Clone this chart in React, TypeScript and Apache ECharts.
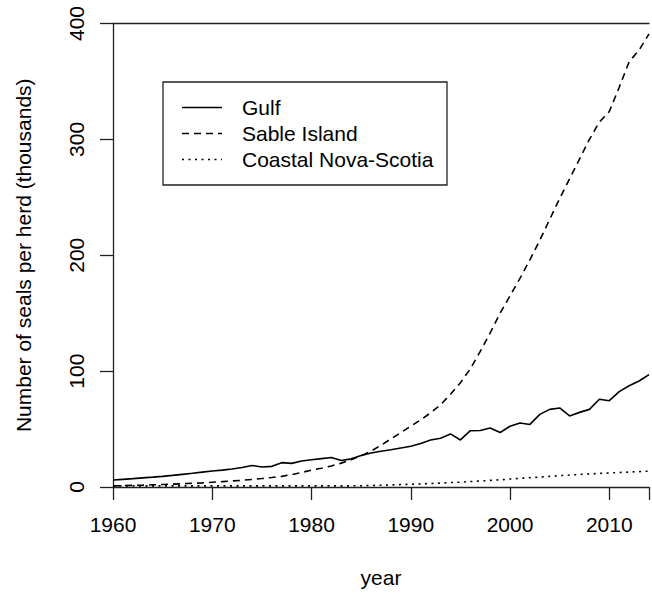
import React, { useEffect, useRef } from "react";
import * as echarts from "echarts";

const years: number[] = [];
for (let y = 1960; y <= 2014; y++) years.push(y);

const gulf = [
  6.0, 6.6, 7.2, 7.9, 8.5, 9.2, 10.0, 10.9, 11.8, 12.8,
  13.8, 14.6, 15.5, 16.9, 18.6, 17.3, 17.8, 21.0, 20.4, 22.5,
  23.5, 24.5, 25.5, 22.8, 24.3, 27.2, 29.3, 30.8, 32.2, 33.7,
  35.2, 37.5, 40.6, 42.0, 45.8, 40.6, 48.6, 48.8, 51.0, 47.0,
  52.4, 55.2, 54.0, 62.7, 67.0, 68.2, 61.3, 64.4, 67.0, 75.7,
  74.5, 82.3, 87.4, 91.5, 97.0,
];

const sable = [
  1.0, 1.2, 1.4, 1.6, 1.9, 2.2, 2.5, 2.8, 3.2, 3.6,
  4.1, 4.6, 5.2, 5.8, 6.5, 7.3, 8.2, 9.2, 10.7, 12.5,
  14.5, 16.2, 18.2, 20.6, 23.5, 27.0, 31.0, 36.0, 41.5, 47.0,
  52.5, 58.0, 64.0, 71.0, 80.0, 90.0, 102.0, 117.0, 133.0, 150.0,
  165.0, 180.0, 196.0, 213.0, 231.0, 249.0, 266.0, 283.0, 300.0, 315.0,
  324.0, 345.0, 367.0, 377.0, 391.0,
];

const coastal = [
  1.0, 1.0, 1.0, 1.0, 1.0, 1.0, 1.0, 1.0, 1.0, 1.0,
  1.0, 1.0, 1.0, 1.0, 1.0, 1.0, 1.0, 1.0, 1.0, 1.0,
  1.0, 1.0, 1.0, 1.0, 1.0, 1.1, 1.3, 1.5, 1.8, 2.1,
  2.4, 2.7, 3.0, 3.4, 3.8, 4.2, 4.7, 5.2, 5.7, 6.2,
  6.9, 7.4, 8.0, 8.6, 9.2, 9.8, 10.3, 10.8, 11.3, 11.7,
  12.1, 12.5, 12.9, 13.3, 13.7,
];

const seriesNames = ["Gulf", "Sable Island", "Coastal Nova-Scotia"];

const FONT = "'Liberation Sans', Arial, sans-serif";

export default function App() {
  const ref = useRef<HTMLDivElement>(null);

  useEffect(() => {
    if (!ref.current) return;
    const chart = echarts.init(ref.current, undefined, { renderer: "svg" });
    const pair = (arr: number[]) => years.map((y, i) => [y, arr[i]]);
    const dashes: (string | number[])[] = ["solid", [7, 5], [2, 4.5]];
    const legendRows = [107.5, 133.5, 159.5];

    const legendGraphics: any[] = [
      {
        type: "rect",
        shape: { x: 163, y: 82, width: 284, height: 103 },
        style: { fill: "#fff", stroke: "#222", lineWidth: 1.3 },
        z: 100,
      },
    ];
    seriesNames.forEach((n, i) => {
      legendGraphics.push({
        type: "line",
        shape: { x1: 182, y1: legendRows[i], x2: 222, y2: legendRows[i] },
        style: {
          stroke: "#000",
          lineWidth: 1.6,
          lineDash: dashes[i] === "solid" ? null : dashes[i],
        },
        z: 101,
      });
      legendGraphics.push({
        type: "text",
        x: 242,
        y: legendRows[i],
        style: {
          text: n,
          font: `21px ${FONT}`,
          fill: "#000",
          textVerticalAlign: "middle",
          verticalAlign: "middle",
          textAlign: "left",
          align: "left",
        },
        z: 101,
      });
    });

    const data = [gulf, sable, coastal];
    const axisLineStyle = { color: "#222", width: 1.3 };

    chart.setOption({
      animation: false,
      backgroundColor: "#fff",
      textStyle: { fontFamily: FONT },
      grid: {
        left: 113,
        top: 23.5,
        width: 540,
        height: 463.5,
        show: false,
        containLabel: false,
      },
      xAxis: [
        {
          type: "value",
          min: 1960,
          max: 2014,
          interval: 10,
          position: "bottom",
          name: "year",
          nameLocation: "middle",
          nameGap: 80,
          nameTextStyle: { fontSize: 21, color: "#000", fontFamily: FONT },
          axisLine: { show: true, onZero: false, lineStyle: axisLineStyle },
          axisTick: { show: true, length: 13, inside: false, lineStyle: axisLineStyle },
          axisLabel: {
            fontSize: 21,
            color: "#000",
            margin: 27,
            fontFamily: FONT,
            formatter: (v: number) => (v % 10 === 0 ? String(v) : ""),
          },
          splitLine: { show: false },
        },
        {
          type: "value",
          min: 1960,
          max: 2014,
          interval: 10,
          position: "top",
          axisLine: { show: true, onZero: false, lineStyle: axisLineStyle },
          axisTick: { show: false },
          axisLabel: { show: false },
          splitLine: { show: false },
        },
      ],
      yAxis: {
        type: "value",
        min: 0,
        max: 400,
        interval: 100,
        name: "Number of seals per herd (thousands)",
        nameLocation: "middle",
        nameGap: 79,
        nameTextStyle: { fontSize: 21, color: "#000", fontFamily: FONT },
        axisLine: { show: true, lineStyle: axisLineStyle },
        axisTick: { show: true, length: 13, inside: false, lineStyle: axisLineStyle },
        axisLabel: {
          fontSize: 21,
          color: "#000",
          rotate: 90,
          margin: 26,
          fontFamily: FONT,
        },
        splitLine: { show: false },
      },
      series: seriesNames.map((n, i) => ({
        name: n,
        type: "line",
        xAxisIndex: 0,
        data: pair(data[i]),
        showSymbol: false,
        symbol: "none",
        lineStyle: { color: "#000", width: 1.6, type: dashes[i] },
        z: 3,
      })),
      graphic: legendGraphics,
    });

    return () => chart.dispose();
  }, []);

  return (
    <div
      ref={ref}
      style={{ position: "absolute", left: 0, top: 0, width: 652, height: 594, background: "#fff" }}
    />
  );
}
